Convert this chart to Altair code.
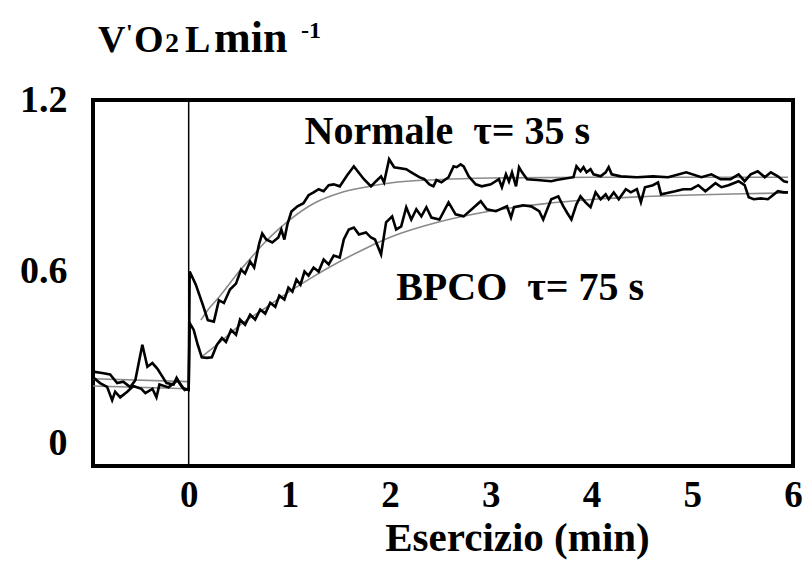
import altair as alt
import pandas as pd

# ---- observed data (minutes, L/min) ----
normale_t = [-0.95, -0.86, -0.78, -0.71, -0.65, -0.58, -0.53, -0.46, -0.41, -0.36, -0.31, -0.22, -0.15, -0.12, -0.09, -0.04, 0.0,
             0.01, 0.07, 0.14, 0.19, 0.25, 0.30, 0.35, 0.41, 0.47, 0.52, 0.56, 0.61, 0.65, 0.70, 0.73, 0.77, 0.83, 0.89, 0.92, 0.95,
             0.98, 1.02, 1.08, 1.14, 1.19, 1.24, 1.29, 1.34, 1.39, 1.44, 1.50, 1.57, 1.64, 1.74, 1.81, 1.86, 1.91, 1.94, 1.99, 2.04,
             2.16, 2.21, 2.29, 2.34, 2.39, 2.43, 2.46, 2.51, 2.58, 2.63, 2.66, 2.70, 2.73, 2.78, 2.85, 2.91, 3.00, 3.08, 3.11, 3.15,
             3.18, 3.21, 3.25, 3.28, 3.31, 3.36, 3.46, 3.60, 3.65, 3.82, 3.85, 3.89, 3.92, 3.95, 3.99, 4.02, 4.09, 4.14, 4.17, 4.20,
             4.29, 4.45, 4.61, 4.76, 4.94, 5.09, 5.19, 5.28, 5.38, 5.46, 5.52, 5.58, 5.65, 5.72, 5.78, 5.85, 5.91, 5.95]
normale_v = [0.25, 0.245, 0.24, 0.21, 0.215, 0.196, 0.22, 0.344, 0.267, 0.28, 0.26, 0.21, 0.205, 0.228, 0.21, 0.186, 0.19,
             0.60, 0.555, 0.484, 0.43, 0.425, 0.50, 0.49, 0.537, 0.558, 0.607, 0.593, 0.635, 0.614, 0.698, 0.733, 0.712, 0.702, 0.719, 0.747, 0.712,
             0.765, 0.81, 0.828, 0.839, 0.867, 0.877, 0.888, 0.881, 0.902, 0.905, 0.898, 0.935, 0.968, 0.923, 0.898, 0.916, 0.933, 0.912, 0.993, 0.965,
             0.958, 0.947, 0.930, 0.923, 0.905, 0.898, 0.920, 0.912, 0.930, 0.968, 0.965, 0.975, 0.968, 0.933, 0.905, 0.898, 0.905, 0.923, 0.895, 0.94,
             0.915, 0.947, 0.898, 0.965, 0.947, 0.923, 0.920, 0.916, 0.920, 0.930, 0.968, 0.951, 0.965, 0.947, 0.958, 0.940, 0.933, 0.947, 0.965, 0.940,
             0.933, 0.930, 0.933, 0.930, 0.947, 0.930, 0.940, 0.923, 0.923, 0.940, 0.916, 0.940, 0.951, 0.930, 0.947, 0.933, 0.916, 0.912]

bpco_t = [-0.95, -0.88, -0.81, -0.76, -0.73, -0.68, -0.61, -0.55, -0.47, -0.43, -0.36, -0.32, -0.29, -0.20, -0.11, -0.06, 0.0,
          0.01, 0.05, 0.09, 0.13, 0.18, 0.23, 0.28, 0.33, 0.37, 0.42, 0.47, 0.51, 0.56, 0.61, 0.66, 0.71, 0.76, 0.81, 0.86, 0.90,
          0.95, 0.99, 1.03, 1.07, 1.11, 1.15, 1.19, 1.24, 1.29, 1.34, 1.39, 1.44, 1.50, 1.54, 1.59, 1.64, 1.69, 1.76, 1.81, 1.85,
          1.91, 1.96, 2.02, 2.06, 2.11, 2.16, 2.21, 2.26, 2.31, 2.36, 2.41, 2.49, 2.58, 2.65, 2.73, 2.90, 2.96, 3.05, 3.16, 3.20,
          3.23, 3.32, 3.40, 3.48, 3.52, 3.56, 3.60, 3.67, 3.72, 3.76, 3.80, 3.85, 3.89, 3.94, 3.99, 4.04, 4.09, 4.14, 4.17, 4.22,
          4.27, 4.34, 4.39, 4.45, 4.49, 4.53, 4.61, 4.66, 4.69, 4.74, 4.83, 4.91, 4.99, 5.06, 5.13, 5.23, 5.29, 5.36, 5.46, 5.52,
          5.56, 5.61, 5.68, 5.75, 5.80, 5.85, 5.91, 5.95]
bpco_v = [0.23, 0.21, 0.197, 0.15, 0.18, 0.16, 0.18, 0.20, 0.19, 0.175, 0.19, 0.16, 0.205, 0.195, 0.22, 0.193, 0.186,
          0.42, 0.396, 0.344, 0.30, 0.298, 0.30, 0.344, 0.368, 0.354, 0.396, 0.379, 0.432, 0.414, 0.449, 0.432, 0.467, 0.453, 0.491, 0.477, 0.516,
          0.502, 0.544, 0.530, 0.572, 0.554, 0.60, 0.586, 0.614, 0.60, 0.642, 0.625, 0.656, 0.649, 0.712, 0.747, 0.754, 0.73, 0.737, 0.719, 0.712,
          0.66, 0.772, 0.793, 0.747, 0.758, 0.825, 0.782, 0.818, 0.793, 0.825, 0.789, 0.782, 0.842, 0.80, 0.793, 0.846, 0.818, 0.811, 0.828, 0.789,
          0.825, 0.832, 0.828, 0.811, 0.782, 0.818, 0.853, 0.863, 0.828, 0.804, 0.782, 0.835, 0.863, 0.842, 0.825, 0.877, 0.853, 0.870, 0.853, 0.877,
          0.853, 0.888, 0.877, 0.888, 0.842, 0.895, 0.902, 0.912, 0.870, 0.874, 0.881, 0.888, 0.888, 0.902, 0.881, 0.909, 0.895, 0.902, 0.916, 0.902,
          0.86, 0.853, 0.856, 0.853, 0.867, 0.881, 0.877, 0.877]

# ---- fitted mono-exponential curves ----
fit_normale_t = [0.12, 0.2, 0.3, 0.4, 0.5, 0.6, 0.75, 0.9, 1.0, 1.25, 1.5, 1.75, 2.0, 2.5, 3.0, 4.0, 5.0, 5.95]
fit_normale_v = [0.43, 0.47, 0.51, 0.555, 0.60, 0.64, 0.70, 0.75, 0.78, 0.84, 0.875, 0.895, 0.91, 0.922, 0.927, 0.93, 0.93, 0.93]
fit_bpco_t = [0.12, 0.3, 0.5, 0.75, 1.0, 1.25, 1.5, 1.75, 2.0, 2.5, 3.0, 3.5, 4.0, 4.5, 5.0, 5.5, 5.95]
fit_bpco_v = [0.30, 0.35, 0.41, 0.47, 0.53, 0.585, 0.635, 0.68, 0.72, 0.775, 0.812, 0.836, 0.852, 0.862, 0.868, 0.872, 0.875]
base_fit_t = [-0.95, 0.0]
base_fit_normale_v = [0.225, 0.215]
base_fit_bpco_v = [0.20, 0.19]

onset = [0.0]
x_ticks = [0, 1, 2, 3, 4, 5, 6]
y_ticks = [0, 0.6, 1.2]

ann_text = ["Normale\u00a0\u00a0τ= 35 s", "BPCO\u00a0\u00a0τ= 75 s"]
ann_t = [1.15, 2.06]
ann_v = [1.046, 0.50]


def seg(t, v, name):
    return pd.DataFrame({"t": t, "v": v, "seg": name, "i": list(range(len(t)))})


obs = pd.concat([seg(normale_t, normale_v, "Normale"), seg(bpco_t, bpco_v, "BPCO")], ignore_index=True)
fits = pd.concat([
    seg(fit_normale_t, fit_normale_v, "fitN"),
    seg(fit_bpco_t, fit_bpco_v, "fitB"),
    seg(base_fit_t, base_fit_normale_v, "baseN"),
    seg(base_fit_t, base_fit_bpco_v, "baseB"),
], ignore_index=True)
ann = pd.DataFrame({"t": ann_t, "v": ann_v, "label": ann_text})

SERIF = "'Liberation Serif', 'Times New Roman', Times, serif"

X = alt.X("t:Q", scale=alt.Scale(domain=[-0.95, 6], nice=False, zero=False),
          axis=alt.Axis(values=x_ticks, title="Esercizio (min)", labelFontSize=37, labelPadding=11,
                        titleFontSize=41, titleX=424, titleY=84, titleBaseline="alphabetic",
                        titleAlign="center", labelFlush=False))
Y = alt.Y("v:Q", scale=alt.Scale(domain=[-0.08, 1.2], nice=False, zero=False),
          axis=alt.Axis(values=y_ticks, title=None, labelFontSize=38, labelPadding=26,
                        labelExpr="datum.value == 0 ? '0' : format(datum.value, '.1f')"))

fit_layer = alt.Chart(fits).mark_line(color="#8a8a8a", strokeWidth=1.6, interpolate="monotone").encode(
    x=X, y=Y, detail="seg:N", order="i:Q")
obs_layer = alt.Chart(obs).mark_line(color="black", strokeWidth=2.6).encode(
    x=X, y=Y, detail="seg:N", order="i:Q")
rule_layer = alt.Chart(pd.DataFrame({"t": onset})).mark_rule(color="black", strokeWidth=1.5).encode(x=X)
ann_layer = alt.Chart(ann).mark_text(align="left", baseline="alphabetic", font=SERIF, fontWeight="bold",
                                     fontSize=40, color="black").encode(x=X, y=Y, text="label:N")

one = pd.DataFrame({"k": [0]})


def piece(txt, px, py, size):
    return alt.Chart(one).mark_text(text=txt, align="left", baseline="alphabetic", font=SERIF,
                                    fontWeight="bold", fontSize=size, color="black").encode(
        x=alt.value(px), y=alt.value(py))


title_layers = [
    piece("V", 5, -48, 38),
    piece("'", 33, -60, 24),
    piece("O", 41, -48, 38),
    piece("2", 72, -48, 28),
    piece("L", 92, -48, 38),
    piece("min", 121, -48, 44),
    piece("-1", 208, -62, 24),
]

chart = alt.layer(fit_layer, obs_layer, rule_layer, ann_layer, *title_layers).properties(
    width=700, height=366,
    padding={"left": 93, "top": 100, "right": 16, "bottom": 120},
    autosize=alt.AutoSizeParams(type="none"),
    background="white",
).configure_view(stroke="black", strokeWidth=4).configure_axis(
    domain=False, ticks=False, grid=False,
    labelFont=SERIF, labelFontWeight="bold", labelColor="black",
    titleFont=SERIF, titleFontWeight="bold", titleColor="black",
)

chart.save("out.html", embed_options={"renderer": "svg", "actions": False})
